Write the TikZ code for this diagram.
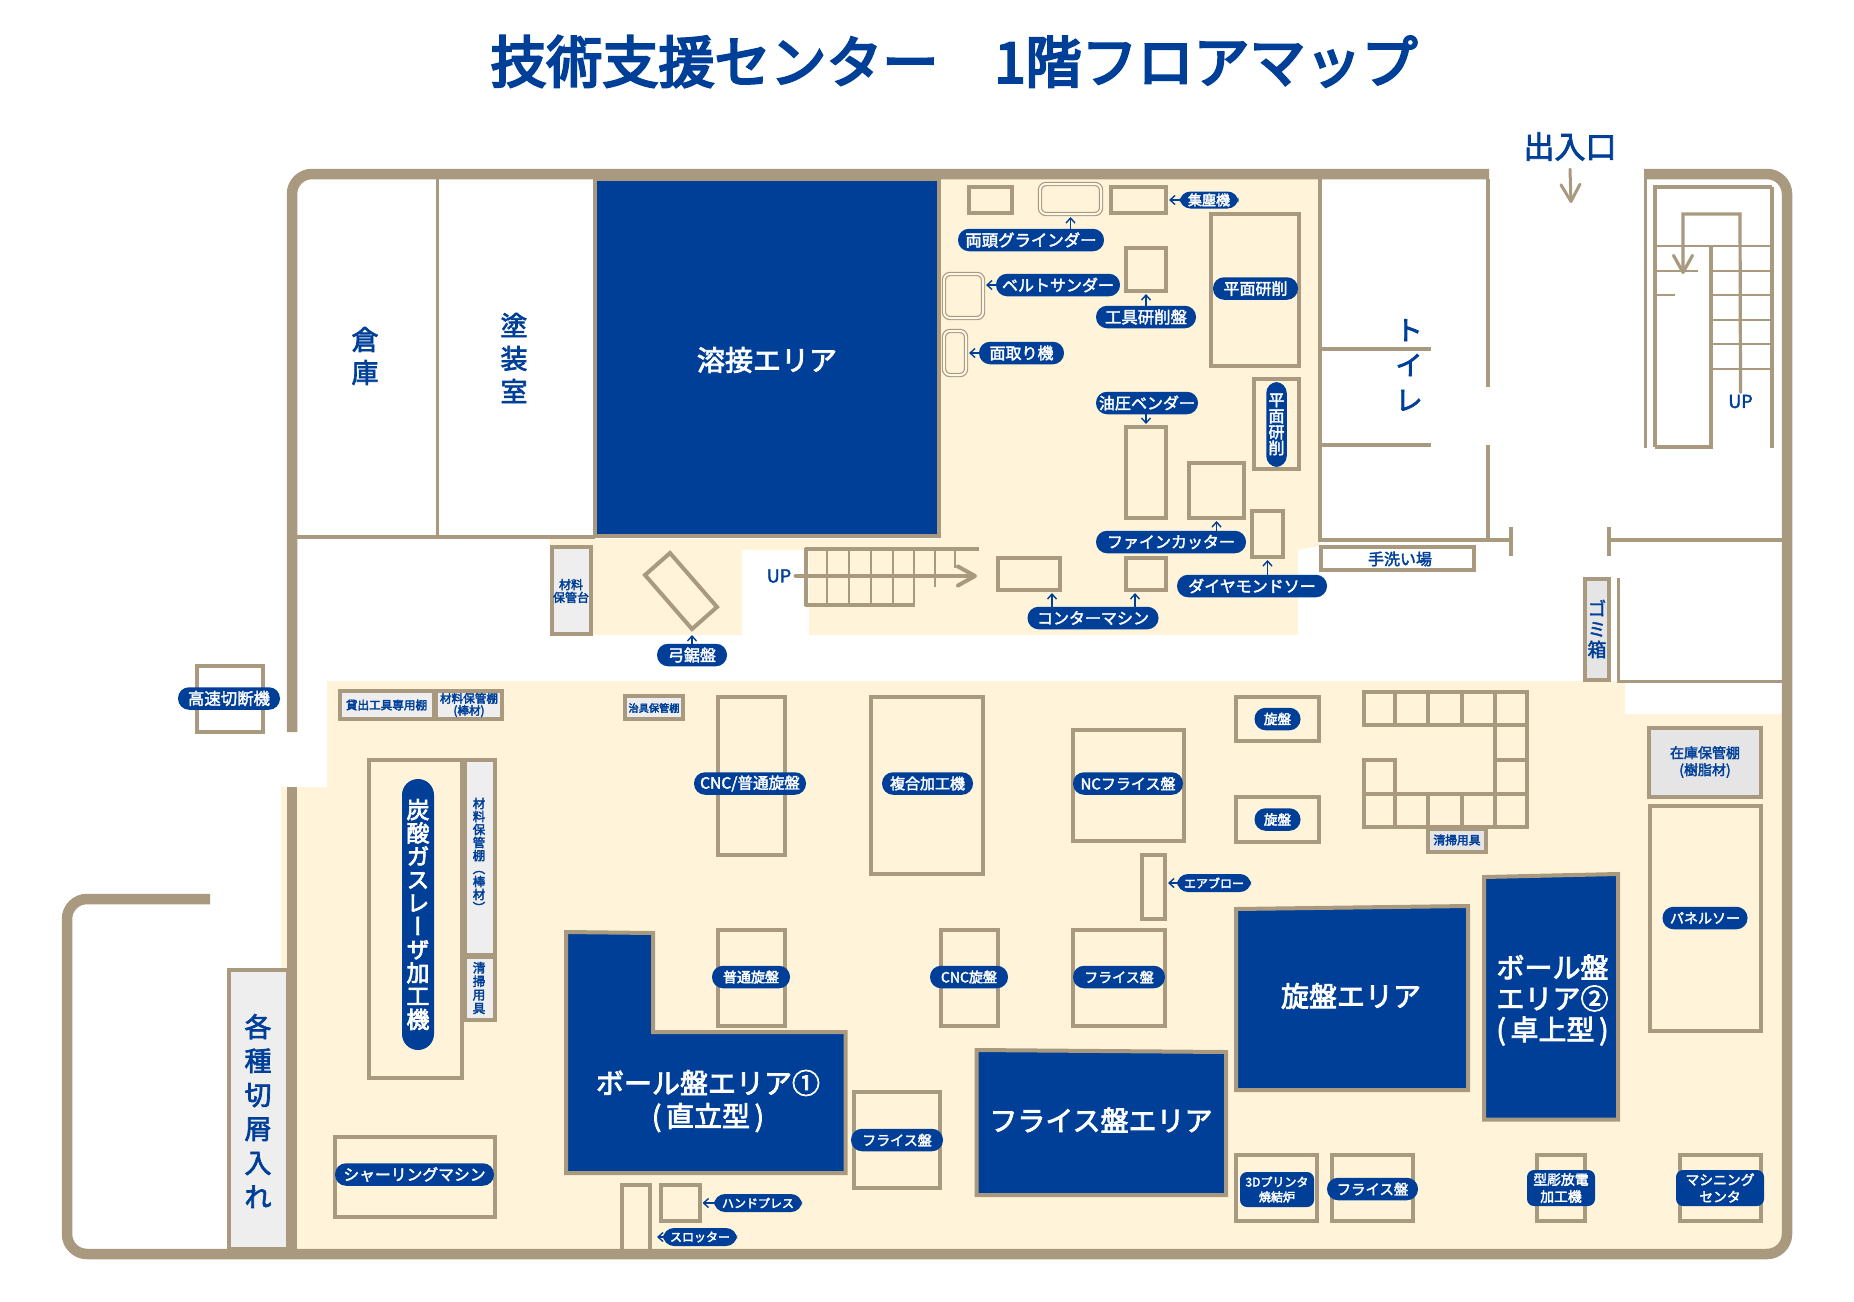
\documentclass[tikz,border=0pt]{standalone}
\usepackage{fontspec}
\usepackage{xcolor}
\usetikzlibrary{arrows.meta,positioning}
\setmainfont{Noto Sans CJK JP}
\newfontfamily\tatefont[RawFeature=+vert]{Noto Sans CJK JP}
\definecolor{navy}{HTML}{003F98}
\definecolor{tan}{HTML}{A99A7F}
\definecolor{cream}{HTML}{FFF4D9}
\definecolor{shelfgray}{HTML}{EEEEEE}
\definecolor{stockgray}{HTML}{E5E5E5}
\lineskiplimit=-100pt
\newcommand{\fatten}[1]{\special{pdf:code 2 Tr #1 w}}
\newcommand{\pxf}[2]{\fontsize{#1}{#2}\selectfont\fatten{.18}}
\newcommand{\mach}[6][machine]{\node [#1, minimum width={(#5-#3)*.5pt-1pt}, minimum height={(#6-#4)*.5pt-1pt}] (#2) at ({(#3+#5)/2},{(#4+#6)/2}) {};}
\tikzset{
	wall/.style={draw=tan, line width=5.25pt, rounded corners=10pt},
	room/.style={draw=tan, line width=2pt},
	tread/.style={draw=tan, line width=.8pt},
	machine/.style={draw=tan, line width=2pt, inner sep=0pt, outer sep=0pt},
	shelf/.style={machine, fill=shelfgray},
	stock/.style={machine, fill=stockgray},
	twin/.style={machine, line width=.6pt, double=white!40!cream, double distance=1pt, rounded corners=3pt, fill=cream},
	area/.style={draw=tan, line width=2pt, fill=navy},
	areatext/.style={text=white, align=center, inner sep=0pt, font=\pxf{14}{16.5}\fatten{.4}},
	pill/.style={fill=navy, text=white, rounded corners=5.5pt, inner sep=0pt, outer sep=0pt, minimum height=11.25pt, align=center},
	label/.style={text=navy, align=center, inner sep=0pt},
	ptr/.style={draw=navy, line width=.7pt, shorten >=1.5pt, -{Straight Barb[length=2.5pt,width=4.5pt]}},
	flow/.style={draw=tan, line width=1.8pt, line cap=round, -{Straight Barb[length=8.5pt,width=9.5pt,round]}}
}
\begin{document}
\begin{tikzpicture}[x=.5pt,y=-.5pt]
	\useasboundingbox (0,0) rectangle (1854,1302);
	\fill [cream] (939,179) -- (1320,179) -- (1320,546) -- (1298,550) -- (1298,635) -- (809,635) -- (809,550) -- (742,550) -- (742,635) -- (550,635) -- (550,539) -- (939,539) -- cycle;
	\fill [cream] (327,681) -- (1625,681) -- (1625,714) -- (1785,714) -- (1785,1252) -- (292,1252) -- (292,969) -- (281,969) -- (281,787) -- (327,787) -- cycle;
	\node [label, font=\pxf{28}{28}\fatten{1.2}] (title) at (954,61.5) {技術支援センター　1階フロアマップ};

	\draw [area] (595,179) -- (939,179) -- (939,536) -- (595,536) -- cycle;
	\node [areatext] (yosetsu) at (767,360) {溶接エリア};
	\draw [room] (297,537) -- (595,537);
	\draw [room, line width=1.75pt] (437.5,179) -- (437.5,537);
	\node [label, font=\pxf{13.5}{16.5}\fatten{.35}] (soko) at (365,356) {倉\\庫};
	\node [label, font=\pxf{13.5}{16.5}\fatten{.35}] (toso) at (514,358) {塗\\装\\室};

	\draw [room] (1320,179) -- (1320,540) -- (1511,540);
	\draw [room] (1511,527) -- (1511,555.5);
	\draw [room] (1609,527) -- (1609,555.5);
	\draw [room] (1609,540) -- (1787,540);
	\draw [room] (1487.5,179) -- (1487.5,387);
	\draw [room] (1487.5,445) -- (1487.5,540);
	\draw [room] (1320,349) -- (1431,349);
	\draw [room] (1320,445) -- (1431,445);
	\node [label, font=\tatefont\pxf{14}{17.5}\fatten{.35}] (toilet) at (1409,365) {ト\\イ\\レ};
	\mach[machine, fill=white]{tearai}{1320}{546}{1474.5}{571}
	\node [label, font=\pxf{8}{8}] (tearaiT) at (1400,559) {手洗い場};

	\node [label, font=\pxf{15.5}{15.5}\fatten{.4}] (door) at (1570,146.5) {出入口};
	\coordinate (doorTip) at (1571,203);
	\draw [flow, line width=1.5pt] ([yshift=-4pt]door.south) -- (doorTip);

	\draw [room, line width=1.6pt] (1645.5,179) -- (1645.5,448);
	\draw [room, line width=1.7pt] (1655,447) -- (1655,187) -- (1772,187);
	\draw [room, line width=1.7pt] (1772,187) -- (1772,448);
	\draw [room, line width=1.7pt] (1655,447) -- (1711,447) -- (1711,246);
	\foreach \y in {246,271,295,320,344,369}
		\draw [tread] (1711,\y) -- (1772,\y);
	\draw [tread] (1655,246) -- (1711,246);
	\draw [tread] (1655,271) -- (1698,271);
	\draw [tread] (1655,295) -- (1675,295);
	\node [label, font=\pxf{9}{9}] (upB) at (1740.5,401.5) {UP};
	\coordinate (upBTip) at (1683,274);
	\draw [flow, line width=1.6pt] ([yshift=1pt]upB.north) -- (1740,214) -- (1683,214) -- (upBTip);

	\mach[shelf]{dai}{551}{545.5}{592}{635}
	\node [label, font=\pxf{6}{6.4}] (daiT) at (571,591) {材料\\保管台};
	\draw [machine] (670,553) -- (645,575) -- (692,629) -- (717,607) -- cycle;
	\coordinate (yumiTip) at (692,632);
	\node [pill, font=\pxf{8}{8}, minimum width=35pt] (yumi) at (692,655) {弓鋸盤};
	\draw [ptr] (yumi.north) -- (yumiTip);

	\draw [room, line width=1.7pt] (805,549) -- (979,549);
	\draw [room] (806,548) -- (806,606);
	\draw [room] (805,604.5) -- (915,604.5);
	\foreach \x in {827,849,871,893,914}
		\draw [tread] (\x,549) -- (\x,604);
	\draw [tread] (935,549) -- (935,587);
	\draw [tread] (955,549) -- (955,568);
	\node [label, font=\pxf{9}{9}] (upA) at (779,576) {UP};
	\coordinate (upATip) at (977,576);
	\draw [flow, line width=2pt] ([xshift=2pt]upA.east) -- (upATip);

	\mach{kyokiA}{968}{186}{1013}{214}
	\mach[twin]{ryotoM}{1039}{183}{1102}{215}
	\mach{kyokiB}{1110}{186}{1167}{214}
	\node [pill, font=\pxf{7}{7}, minimum width=29.5pt, minimum height=8.5pt] (kyoki) at (1209,200) {集塵機};
	\draw [ptr] (kyoki.west) -- (kyokiB.east |- kyoki.west);
	\node [pill, font=\pxf{8.2}{8.2}, minimum width=73pt] (ryoto) at (1031,240) {両頭グラインダー};
	\draw [ptr] (ryotoM.south |- ryoto.north) -- (ryotoM.south);
	\mach{kogu}{1125}{247}{1167}{292}
	\node [pill, font=\pxf{8.2}{8.2}, minimum width=50pt] (koguT) at (1146,317) {工具研削盤};
	\draw [ptr] (koguT.north) -- (kogu.south);
	\mach{heimenA}{1210}{213}{1300}{367}
	\node [pill, font=\pxf{8}{8}, minimum width=42.5pt] (heimenAT) at (1255.5,288.5) {平面研削};
	\mach[twin]{beltM}{943}{273}{984}{319}
	\node [pill, font=\pxf{8}{8}, minimum width=62pt] (belt) at (1058,285) {ベルトサンダー};
	\draw [ptr] (belt.west) -- (beltM.east |- belt.west);
	\mach[twin]{mentoriM}{943}{330}{967}{376}
	\node [pill, font=\pxf{8}{8}, minimum width=42.5pt] (mentori) at (1021.5,353) {面取り機};
	\draw [ptr] (mentori.west) -- (mentoriM.east |- mentori.west);
	\mach{yuatsuM}{1125}{426}{1167}{519}
	\node [pill, font=\pxf{8}{8}, minimum width=51pt] (yuatsu) at (1147,403) {油圧ベンダー};
	\draw [ptr] (yuatsuM.north |- yuatsu.south) -- (yuatsuM.north);
	\mach{heimenB}{1253}{378}{1300}{470}
	\node [pill, font=\tatefont\pxf{8}{8}, minimum width=10.25pt, minimum height=42.5pt] (heimenBT) at (1276.5,424.5) {平\\面\\研\\削};
	\mach{fineM}{1188}{462}{1245}{519}
	\node [pill, font=\pxf{8}{8}, minimum width=75pt] (fine) at (1171,542) {ファインカッター};
	\draw [ptr] (fineM.south |- fine.north) -- (fineM.south);
	\mach{diaM}{1251}{510}{1284}{558}
	\node [pill, font=\pxf{8}{8}, minimum width=75pt] (dia) at (1252,586) {ダイヤモンドソー};
	\draw [ptr] (diaM.south |- dia.north) -- (diaM.south);
	\mach{conA}{997}{557}{1061}{591}
	\mach{conB}{1125}{557}{1167}{591}
	\node [pill, font=\pxf{8}{8}, minimum width=65.5pt] (contour) at (1093,618) {コンターマシン};
	\draw [ptr] ([xshift=11.5pt]conA.south |- contour.north) -- ([xshift=11.5pt]conA.south);
	\draw [ptr] ([xshift=-5.5pt]conB.south |- contour.north) -- ([xshift=-5.5pt]conB.south);

	\mach[stock]{gomi}{1584}{578}{1610}{681}
	\node [label, font=\tatefont\pxf{9.5}{10.2}] (gomiT) at (1597,629) {ゴ\\ミ\\箱};
	\draw [room, line width=1.5pt] (1618,578) -- (1618,681) -- (1787,681);

	\mach{kosokuM}{196}{665}{264}{733}
	\node [pill, font=\pxf{8.2}{8.2}, minimum width=51pt] (kosoku) at (229,698.5) {高速切断機};
	\mach[shelf]{kashi}{339}{690}{434.5}{720}
	\node [label, font=\pxf{5.8}{5.8}] (kashiT) at (386.5,705) {貸出工具専用棚};
	\mach[shelf]{boA}{434.5}{690}{503}{720}
	\node [label, font=\pxf{5.8}{6}] (boAT) at (469,705) {材料保管棚\\(棒材)};
	\mach[shelf]{jigu}{624}{695}{683.5}{720}
	\node [label, font=\pxf{5.1}{5.1}] (jiguT) at (654,708) {治具保管棚};

	\mach{laserM}{368}{759}{463}{1079}
	\node [pill, font=\tatefont\pxf{11.5}{11.65}\fatten{.35}, minimum width=16pt, minimum height=135.5pt, rounded corners=8pt] (laser) at (418,914.5) {炭\\酸\\ガ\\ス\\レ\\ー\\ザ\\加\\工\\機};
	\mach[shelf]{boB}{464}{759}{495.5}{956}
	\node [label, font=\tatefont\pxf{6.2}{6.5}] (boBT) at (479,855) {材\\料\\保\\管\\棚\\（\\棒\\材\\）};
	\mach[shelf]{sojiA}{464}{956}{495.5}{1020.5}
	\node [label, font=\tatefont\pxf{6.3}{6.75}] (sojiAT) at (479,988) {清\\掃\\用\\具};
	\mach[shelf]{kuzu}{228}{969}{289}{1250}
	\node [label, font=\pxf{13.5}{17}\fatten{.35}] (kuzuT) at (258,1111) {各\\種\\切\\屑\\入\\れ};
	\mach{shearM}{334}{1135.5}{495.5}{1218}
	\node [pill, font=\pxf{7.9}{7.9}, minimum width=79.5pt] (shear) at (414.5,1174.5) {シャーリングマシン};

	\mach{cncfutsuM}{717}{696}{786}{856}
	\node [pill, font=\pxf{7.8}{7.8}, minimum width=56pt] (cncfutsu) at (750,783.5) {CNC/普通旋盤};
	\mach{futsuM}{717}{929}{786}{1027}
	\node [pill, font=\pxf{7}{7}, minimum width=39pt] (futsu) at (751,977) {普通旋盤};
	\draw [area] (566,932) -- (653,933) -- (653,1032) -- (845.5,1032) -- (845.5,1173) -- (566,1173) -- cycle;
	\node [areatext] (ballA) at (708,1101) {ボール盤エリア①\\(\,直立型\,)};
	\mach{frA}{853}{1091}{941}{1189}
	\node [pill, font=\pxf{7}{7}, minimum width=46pt] (frAT) at (897,1140) {フライス盤};
	\mach{pressM}{660}{1184}{700.5}{1222}
	\node [pill, font=\pxf{6}{6}, minimum width=44pt, minimum height=9pt] (press) at (758,1203) {ハンドプレス};
	\draw [ptr] (press.west) -- (pressM.east |- press.west);
	\draw [room] (622,1250) -- (622,1185) -- (650,1185) -- (650,1250);
	\coordinate (slotTip) at (654,1237);
	\node [pill, font=\pxf{6}{6}, minimum width=37pt, minimum height=9pt] (slot) at (700,1237) {スロッター};
	\draw [ptr] (slot.west) -- (slotTip);

	\mach{fukugoM}{870}{696}{984}{875}
	\node [pill, font=\pxf{7.5}{7.5}, minimum width=45.5pt] (fukugo) at (927.5,783.5) {複合加工機};
	\mach{ncM}{1072}{729}{1185}{842}
	\node [pill, font=\pxf{7.5}{7.5}, minimum width=55pt] (nc) at (1128,783.5) {NCフライス盤};
	\mach{senA}{1235}{696}{1319.5}{742}
	\node [pill, font=\pxf{6.8}{6.8}, minimum width=23pt] (senAT) at (1277.5,719) {旋盤};
	\mach{senB}{1235}{796}{1319.5}{843}
	\node [pill, font=\pxf{6.8}{6.8}, minimum width=23pt] (senBT) at (1277.5,819.5) {旋盤};

	\draw [room] (1364,692) rectangle (1527,725);
	\draw [room] (1495,725) rectangle (1527,826.5);
	\draw [room] (1364,760) rectangle (1395,794);
	\draw [room] (1364,794) rectangle (1527,826.5);
	\draw [room] (1495,760) -- (1527,760);
	\foreach \x in {1395,1428,1462,1495} {
		\draw [room] (\x,692) -- (\x,725);
		\draw [room] (\x,794) -- (\x,826.5);
	}
	\mach[stock]{sojiB}{1427}{827.5}{1487}{853}
	\node [label, font=\pxf{5.9}{5.9}] (sojiBT) at (1457,840) {清掃用具};

	\mach{airM}{1141}{854}{1166}{920}
	\node [pill, font=\pxf{6}{6}, minimum width=37pt, minimum height=9pt] (air) at (1214,883) {エアブロー};
	\draw [ptr] (air.west) -- (airM.east |- air.west);
	\mach{cncsenM}{940}{929}{998.5}{1027}
	\node [pill, font=\pxf{7}{7}, minimum width=39pt] (cncsen) at (969,977) {CNC旋盤};
	\mach{frB}{1072}{929}{1166}{1027}
	\node [pill, font=\pxf{7}{7}, minimum width=46pt] (frBT) at (1119,977) {フライス盤};

	\draw [area] (1236,909) -- (1468,906) -- (1468,1090) -- (1236,1090) -- cycle;
	\node [areatext] (senArea) at (1351,996) {旋盤エリア};
	\draw [area] (1484,877) -- (1618,874) -- (1618,1119.5) -- (1484,1119.5) -- cycle;
	\node [areatext, font=\pxf{14}{15.5}\fatten{.4}] (ballB) at (1552.5,1000) {ボール盤\\エリア②\\(\,卓上型\,)};
	\draw [area] (976.5,1050) -- (1226,1052) -- (1226,1195) -- (976.5,1195) -- cycle;
	\node [areatext] (frArea) at (1101,1120) {フライス盤エリア};

	\mach[stock]{zaiko}{1648}{727}{1762}{798}
	\node [label, font=\pxf{7}{8.5}] (zaikoT) at (1705,762) {在庫保管棚\\(樹脂材)};
	\mach{panelM}{1649}{805}{1762}{1032}
	\node [pill, font=\pxf{7}{7}, minimum width=42.5pt] (panel) at (1705,918) {パネルソー};

	\mach{printM}{1235}{1154}{1318}{1222}
	\node [pill, font=\pxf{6}{7.5}, minimum width=37pt, minimum height=17.5pt, rounded corners=3.5pt] (print) at (1277,1189.5) {3Dプリンタ\\焼結炉};
	\mach{frC}{1331}{1154}{1413.5}{1222}
	\node [pill, font=\pxf{7.2}{7.2}, minimum width=45.5pt] (frCT) at (1372.5,1189) {フライス盤};
	\mach{kataM}{1536}{1154}{1586}{1222}
	\node [pill, font=\pxf{6.9}{8.5}, minimum width=34pt, minimum height=18pt, rounded corners=3.5pt] (kata) at (1561,1188) {型彫放電\\加工機};
	\mach{mcM}{1679}{1154}{1762}{1222}
	\node [pill, font=\pxf{6.9}{8.5}, minimum width=44pt, minimum height=18pt, rounded corners=3.5pt] (mc) at (1720,1188) {マシニング\\センタ};

	\draw [wall] (1489,174) -- (292,174) -- (292,732);
	\draw [wall] (292,787) -- (292,1254);
	\draw [wall] (210,899) -- (67,899) -- (67,1254) -- (1787,1254) -- (1787,174) -- (1644,174);
\end{tikzpicture}
\end{document}
